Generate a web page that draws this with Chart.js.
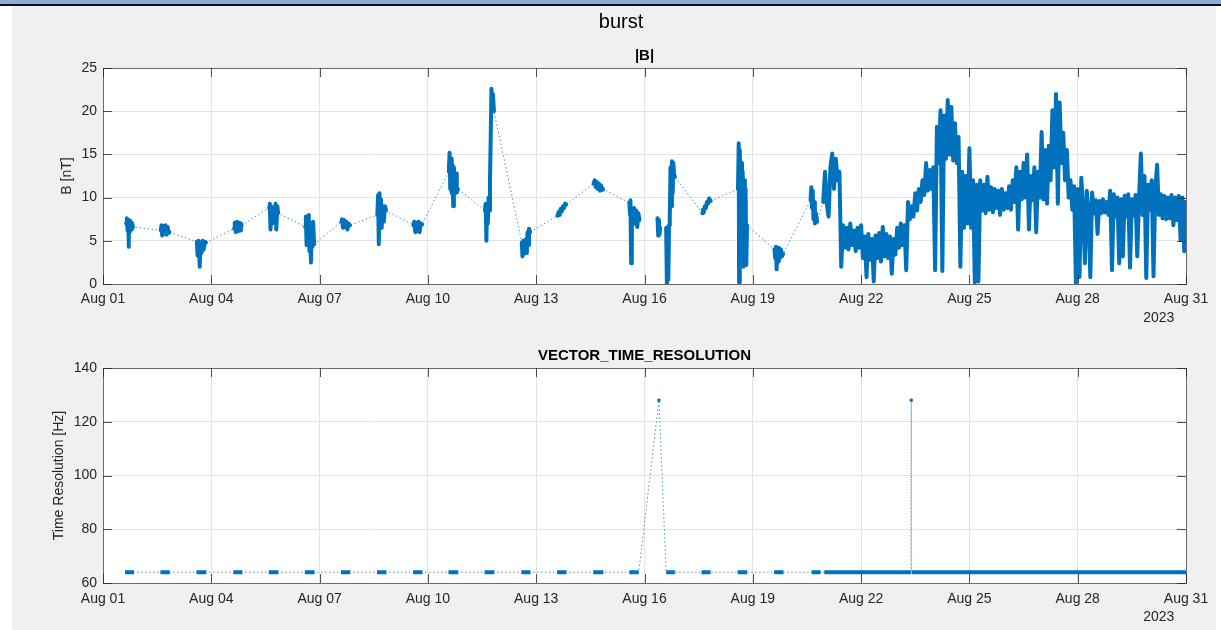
<!DOCTYPE html>
<html>
<head>
<meta charset="utf-8">
<title>burst</title>
<script src="https://cdn.jsdelivr.net/npm/chart.js@4.4.1/dist/chart.umd.min.js"></script>
<style>
  html, body { margin: 0; padding: 0; }
  body { width: 1221px; height: 630px; background: #f0f0f0; position: relative; overflow: hidden; }
  .strip { position: absolute; }
  canvas { position: absolute; left: 0; }
</style>
</head>
<body>
<div class="strip" style="left:0;top:0;width:1221px;height:4px;background:#8eaadb"></div>
<div class="strip" style="left:0;top:4px;width:1221px;height:2px;background:#111"></div>
<div class="strip" style="left:0;top:6px;width:12px;height:624px;background:#fff"></div>
<div class="strip" style="left:1216px;top:6px;width:5px;height:624px;background:#fff"></div>
<canvas id="magChart" width="1221" height="330" style="top:0"></canvas>
<canvas id="resChart" width="1221" height="294" style="top:335px"></canvas>
<script>
// days since Aug 01 2023 00:00
const dayTicks = ['Aug 01', 'Aug 04', 'Aug 07', 'Aug 10', 'Aug 13', 'Aug 16', 'Aug 19', 'Aug 22', 'Aug 25', 'Aug 28', 'Aug 31'];
const yearLabel = '2023';

// |B| [nT], one list per burst; null = data gap (no connecting line)
const magBursts = [
  [[0.64,7.0],[0.66,7.6],[0.68,6.2],[0.70,7.4],[0.71,4.3],[0.72,7.2],[0.74,6.0],[0.76,7.3],[0.78,6.3],[0.80,7.1],[0.83,6.6]],
  [[1.60,6.2],[1.62,6.8],[1.64,5.6],[1.67,6.7],[1.70,5.8],[1.73,6.8],[1.76,5.7],[1.79,6.6],[1.82,5.9],[1.84,6.0]],
  [[2.60,4.9],[2.62,3.3],[2.64,5.0],[2.66,3.8],[2.68,2.0],[2.70,4.8],[2.73,3.6],[2.76,5.0],[2.79,4.0],[2.82,4.9],[2.85,4.8]],
  [[3.63,6.4],[3.65,7.1],[3.68,6.0],[3.71,7.2],[3.74,6.1],[3.77,7.1],[3.80,6.2],[3.82,7.0],[3.84,6.8]],
  [[4.60,8.8],[4.62,9.3],[4.64,6.3],[4.66,9.0],[4.69,7.0],[4.72,8.5],[4.75,7.5],[4.78,9.3],[4.80,6.3],[4.83,9.0],[4.85,8.2]],
  [[5.60,6.6],[5.62,7.8],[5.64,4.5],[5.66,7.5],[5.68,5.0],[5.70,8.0],[5.72,3.8],[5.74,7.0],[5.76,2.5],[5.78,6.5],[5.80,4.3],[5.82,7.2],[5.85,4.6]],
  [[6.60,7.2],[6.62,7.5],[6.65,6.5],[6.68,7.4],[6.71,6.6],[6.74,7.2],[6.77,6.3],[6.80,7.0],[6.84,6.8]],
  [[7.60,8.0],[7.62,10.3],[7.64,4.6],[7.66,10.5],[7.68,7.0],[7.70,9.8],[7.72,6.5],[7.75,9.0],[7.78,7.2],[7.81,9.0],[7.84,8.5]],
  [[8.60,6.8],[8.62,7.2],[8.65,6.0],[8.68,7.1],[8.71,6.1],[8.74,7.2],[8.77,6.0],[8.80,7.0],[8.84,6.9]],
  [[9.58,13.0],[9.60,15.2],[9.62,11.0],[9.64,14.5],[9.66,10.5],[9.68,13.8],[9.70,9.0],[9.72,13.5],[9.75,10.5],[9.78,12.8],[9.80,10.6],[9.83,11.0]],
  [[10.58,8.5],[10.60,9.3],[10.62,5.0],[10.64,9.0],[10.66,7.0],[10.68,10.0],[10.70,8.5],[10.72,12.0],[10.74,17.0],[10.76,22.6],[10.78,20.5],[10.80,22.0],[10.83,20.0]],
  [[11.60,4.8],[11.62,3.2],[11.64,5.0],[11.66,3.5],[11.68,4.8],[11.70,4.0],[11.72,5.2],[11.74,3.6],[11.76,6.0],[11.78,4.5],[11.80,6.4],[11.83,6.0]],
  [[12.59,7.9],[12.62,8.3],[12.65,8.0],[12.68,8.7],[12.71,8.4],[12.74,9.0],[12.77,8.8],[12.80,9.3],[12.83,9.2]],
  [[13.59,11.6],[13.62,12.0],[13.65,11.2],[13.68,11.8],[13.71,11.0],[13.74,11.6],[13.77,10.8],[13.80,11.4],[13.83,10.9],[13.85,11.0]],
  [[14.58,9.4],[14.60,8.0],[14.61,9.7],[14.63,2.4],[14.65,8.5],[14.68,7.2],[14.71,8.8],[14.74,7.0],[14.77,8.5],[14.80,6.6],[14.83,8.2],[14.86,7.4]],
  null,
  [[15.36,7.6],[15.38,5.6],[15.40,7.4],[15.42,5.8],[15.43,6.5]],
  null,
  [[15.60,6.5],[15.62,0.0],[15.64,5.5],[15.66,0.5],[15.68,6.8],[15.70,7.5],[15.72,13.5],[15.74,9.0],[15.76,14.2],[15.78,10.5],[15.80,14.0],[15.82,12.5],[15.84,12.4]],
  [[16.60,8.2],[16.62,8.6],[16.64,8.3],[16.67,9.0],[16.70,8.8],[16.73,9.5],[16.76,9.3],[16.79,9.9],[16.83,9.6]],
  [[17.59,11.0],[17.61,16.3],[17.62,0.2],[17.64,15.5],[17.66,11.0],[17.68,14.0],[17.70,10.5],[17.72,13.0],[17.74,2.0],[17.76,12.0],[17.78,2.5],[17.80,11.0],[17.82,2.2],[17.84,6.8]],
  [[18.60,4.0],[18.62,3.0],[18.64,4.3],[18.66,1.7],[18.68,3.8],[18.70,2.6],[18.72,4.2],[18.75,3.0],[18.78,4.0],[18.81,3.2],[18.84,3.5]],
  [[19.60,9.7],[19.62,11.2],[19.64,8.8],[19.66,10.8],[19.68,7.5],[19.70,9.5],[19.72,7.0],[19.75,8.2],[19.78,7.2]],
  [[19.95,9.5],[20.00,13.0],[20.05,9.3],[20.10,7.8],[20.15,13.5],[20.20,15.1],[20.25,11.0],[20.30,14.5],[20.35,12.0],[20.40,13.0],
   [20.45,2.0],[20.50,6.8],[20.55,4.2],[20.60,6.5],[20.65,4.0],[20.70,7.0],[20.75,4.5],[20.80,6.2],[20.85,3.8],[20.90,6.5],
   [20.95,4.2],[21.00,6.8],[21.05,3.0],[21.10,5.5],[21.15,0.8],[21.20,5.8],[21.25,2.8],[21.30,5.2],[21.35,0.3],[21.40,5.6],
   [21.45,3.0],[21.50,5.9],[21.55,2.6],[21.60,6.6],[21.65,3.2],[21.70,5.8],[21.75,3.0],[21.80,5.5],[21.85,1.2],[21.90,5.2],
   [21.95,3.4],[22.00,6.5],[22.05,4.2],[22.10,7.0],[22.15,4.5],[22.20,6.8],[22.25,1.6],[22.30,9.5],[22.35,7.5],[22.40,9.0],
   [22.45,7.8],[22.50,10.5],[22.55,8.5],[22.60,11.0],[22.65,9.5],[22.70,12.0],[22.75,10.3],[22.80,14.0],[22.85,10.8],[22.90,13.2],
   [22.95,11.0],[23.00,13.5],[23.05,1.6],[23.10,18.2],[23.15,14.0],[23.20,20.1],[23.25,1.5],[23.30,19.5],[23.35,14.5],[23.40,21.3],
   [23.45,15.0],[23.50,20.5],[23.55,14.3],[23.60,18.6],[23.65,14.0],[23.70,17.0],[23.75,2.0],[23.80,13.0],[23.85,6.5],[23.90,12.5],
   [23.95,7.0],[24.00,15.7],[24.05,6.5],[24.10,12.0],[24.15,0.2],[24.20,11.5],[24.25,0.3],[24.30,12.0],[24.35,8.5],[24.40,11.5],
   [24.45,8.2],[24.50,12.4],[24.55,8.6],[24.60,11.2],[24.65,8.3],[24.70,11.0],[24.75,8.8],[24.80,10.8],[24.85,8.0],[24.90,11.0],
   [24.95,8.6],[25.00,10.5],[25.05,8.8],[25.10,11.3],[25.15,8.6],[25.20,12.0],[25.25,9.5],[25.30,13.5],[25.35,6.3],[25.40,13.0],
   [25.45,9.8],[25.50,14.0],[25.55,10.0],[25.60,15.0],[25.65,6.3],[25.70,12.5],[25.75,9.7],[25.80,13.5],[25.85,6.0],[25.90,13.0],
   [25.95,10.0],[26.00,17.6],[26.05,9.8],[26.10,15.5],[26.15,9.3],[26.20,16.0],[26.25,12.0],[26.30,20.1],[26.35,13.5],[26.40,22.0],
   [26.45,9.3],[26.50,21.0],[26.55,14.0],[26.60,17.5],[26.65,12.0],[26.70,15.5],[26.75,10.0],[26.80,12.0],[26.85,8.6],[26.90,11.3],
   [26.95,0.1],[27.00,11.0],[27.05,0.8],[27.10,12.3],[27.15,8.4],[27.20,2.4],[27.25,10.8],[27.30,8.5],[27.35,0.8],[27.40,10.6],
   [27.45,8.2],[27.50,9.7],[27.55,5.8],[27.60,9.6],[27.65,8.2],[27.70,9.8],[27.75,8.3],[27.80,9.5],[27.85,8.0],[27.90,10.8],
   [27.95,1.6],[28.00,10.4],[28.05,7.8],[28.10,10.0],[28.15,2.4],[28.20,9.8],[28.25,3.2],[28.30,10.2],[28.35,7.8],[28.40,10.4],
   [28.45,1.9],[28.50,9.8],[28.55,7.9],[28.60,10.3],[28.65,3.2],[28.70,10.0],[28.75,15.1],[28.80,8.0],[28.85,12.5],[28.90,0.7],
   [28.95,11.5],[29.00,8.6],[29.05,12.0],[29.10,0.9],[29.15,11.0],[29.20,13.8],[29.25,8.0],[29.30,10.4],[29.35,7.6],[29.40,10.2],
   [29.45,7.5],[29.50,10.0],[29.55,7.6],[29.60,10.3],[29.65,6.8],[29.70,10.0],[29.75,7.4],[29.80,10.2],[29.85,5.1],[29.90,10.0],
   [29.95,3.8],[29.98,9.5]]
];

// VECTOR_TIME_RESOLUTION [Hz], same burst layout
const resBursts = [
  [[0.61,64],[0.86,64]], [[1.59,64],[1.85,64]], [[2.59,64],[2.86,64]], [[3.61,64],[3.86,64]],
  [[4.59,64],[4.86,64]], [[5.59,64],[5.86,64]], [[6.59,64],[6.85,64]], [[7.59,64],[7.85,64]],
  [[8.59,64],[8.85,64]], [[9.57,64],[9.84,64]], [[10.57,64],[10.84,64]], [[11.59,64],[11.84,64]],
  [[12.58,64],[12.84,64]], [[13.58,64],[13.86,64]], [[14.58,64],[14.84,64]], [[15.40,128]],
  [[15.60,64],[15.84,64]], [[16.58,64],[16.83,64]], [[17.58,64],[17.84,64]], [[18.59,64],[18.85,64]],
  [[19.63,64],[19.88,64]], [[19.98,64],[22.38,64]], [[22.39,128]], [[22.40,64],[30.00,64]]
];

const BLUE = '#0072bd';
const TXT = '#262626';
const FONT = "'Liberation Sans', Arial, Helvetica, sans-serif";
Chart.defaults.font.family = FONT;
Chart.defaults.font.size = 14;
Chart.defaults.color = TXT;

// thick: every burst closed by a gap; thin: bursts joined except at data gaps
function toSeries(bursts, breakEach) {
  const out = [];
  bursts.forEach(function (b) {
    const lastX = out.length ? out[out.length - 1].x : 0;
    if (b === null) { out.push({x: lastX, y: null}); return; }
    b.forEach(function (p) { out.push({x: p[0], y: p[1]}); });
    if (breakEach) out.push({x: b[b.length - 1][0], y: null});
  });
  return out;
}

function loneDot(c) {
  const d = c.dataset.data, i = c.dataIndex;
  const prev = d[i - 1], next = d[i + 1];
  return (!prev || prev.y === null) && (!next || next.y === null) ? 2.2 : 0;
}

const axesBox = {
  id: 'axesBox',
  beforeDraw(chart) {
    const a = chart.chartArea, ctx = chart.ctx;
    ctx.save();
    ctx.fillStyle = '#ffffff';
    ctx.fillRect(a.left, a.top, a.right - a.left, a.bottom - a.top);
    ctx.restore();
  },
  afterDraw(chart) {
    const a = chart.chartArea, ctx = chart.ctx, sx = chart.scales.x, sy = chart.scales.y;
    const len = 9;
    ctx.save();
    ctx.strokeStyle = 'rgba(38,38,38,0.8)';
    ctx.lineWidth = 1;
    ctx.beginPath();
    sx.ticks.forEach(function (t) {
      const px = Math.round(sx.getPixelForValue(t.value)) + 0.5;
      ctx.moveTo(px, a.bottom); ctx.lineTo(px, a.bottom - len);
      ctx.moveTo(px, a.top); ctx.lineTo(px, a.top + len);
    });
    sy.ticks.forEach(function (t) {
      const py = Math.round(sy.getPixelForValue(t.value)) + 0.5;
      ctx.moveTo(a.left, py); ctx.lineTo(a.left + len, py);
      ctx.moveTo(a.right, py); ctx.lineTo(a.right - len, py);
    });
    ctx.stroke();
    ctx.restore();
  }
};

function buildScales(o) {
  const boxLine = {display: true, color: '#6b6b6b', width: 1};
  return {
    x: {
      type: 'linear', min: 0, max: 30,
      afterFit: function (s) { s.height = 46; },
      grid: {color: '#e3e3e3', drawTicks: false},
      border: boxLine,
      ticks: {
        stepSize: 3, autoSkip: false, maxRotation: 0, padding: o.xPad, color: TXT,
        callback: function (v) { return dayTicks[Math.round(v / 3)]; }
      },
      title: {display: true, text: yearLabel + '   ', align: 'end', color: TXT, padding: {top: 0, bottom: 3.6}}
    },
    x2: {
      type: 'linear', position: 'top', min: 0, max: 30,
      afterFit: function (s) { s.height = o.topH; },
      grid: {drawOnChartArea: false, drawTicks: false},
      border: boxLine,
      ticks: {display: false},
      title: {display: true, text: o.title, color: '#000', font: {size: 15, weight: 'bold'}, padding: {top: o.titlePad, bottom: 0}}
    },
    y: {
      type: 'linear', min: o.yMin, max: o.yMax,
      afterFit: function (s) { s.width = 82; },
      grid: {color: '#e3e3e3', drawTicks: false},
      border: boxLine,
      ticks: {stepSize: o.yStep, padding: 6, color: TXT},
      title: {display: true, text: o.yTitle, color: TXT, padding: {top: o.yTitlePad, bottom: 0}}
    },
    y2: {
      type: 'linear', position: 'right', min: o.yMin, max: o.yMax,
      afterFit: function (s) { s.width = 35; },
      grid: {drawOnChartArea: false, drawTicks: false},
      border: boxLine,
      ticks: {display: false}
    }
  };
}

new Chart(document.getElementById('magChart'), {
  type: 'line',
  data: {
    datasets: [
      {
        data: toSeries(magBursts, true),
        borderColor: BLUE, borderWidth: 4, borderJoinStyle: 'round', borderCapStyle: 'round',
        pointRadius: loneDot, pointBackgroundColor: BLUE, pointBorderWidth: 0, spanGaps: false
      },
      {
        data: toSeries(magBursts, false),
        borderColor: 'rgba(0,114,189,0.75)', borderWidth: 1, borderDash: [1.5, 2.5],
        pointRadius: 0, spanGaps: false
      }
    ]
  },
  options: {
    responsive: false,
    animation: false,
    layout: {padding: {left: 21, right: 0, top: 8, bottom: 0}},
    plugins: {
      legend: {display: false},
      tooltip: {enabled: false},
      title: {display: true, text: 'burst', color: '#000', font: {size: 20, weight: 'normal'}, padding: {top: 2, bottom: 0}}
    },
    scales: buildScales({title: '|B|', topH: 34, titlePad: 13, yMin: 0, yMax: 25, yStep: 5, yTitle: 'B [nT]', yTitlePad: 37.6, xPad: 7})
  },
  plugins: [axesBox]
});

new Chart(document.getElementById('resChart'), {
  type: 'line',
  data: {
    datasets: [
      {
        data: toSeries(resBursts, true),
        borderColor: BLUE, borderWidth: 4, borderCapStyle: 'butt',
        pointRadius: loneDot, pointStyle: 'rect', pointBackgroundColor: BLUE, pointBorderWidth: 0, spanGaps: false
      },
      {
        data: toSeries(resBursts, false),
        borderColor: 'rgba(0,114,189,0.75)', borderWidth: 1, borderDash: [1.5, 2.5],
        pointRadius: 0, spanGaps: false
      }
    ]
  },
  options: {
    responsive: false,
    animation: false,
    layout: {padding: {left: 21, right: 0, top: 0, bottom: 0}},
    plugins: {legend: {display: false}, tooltip: {enabled: false}},
    scales: buildScales({title: 'VECTOR_TIME_RESOLUTION', topH: 33, titlePad: 12, yMin: 60, yMax: 140, yStep: 20, yTitle: 'Time Resolution [Hz]', yTitlePad: 29.6, xPad: 8})
  },
  plugins: [axesBox]
});
</script>
</body>
</html>
